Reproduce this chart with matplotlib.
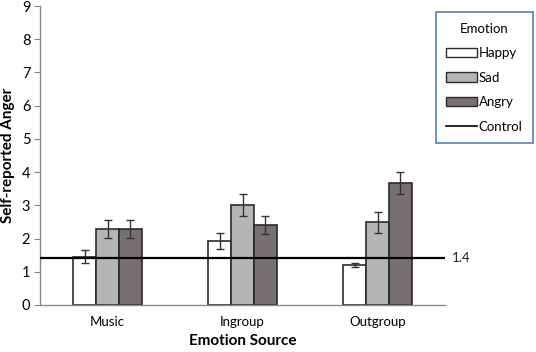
import numpy as np
import matplotlib.pyplot as plt
from matplotlib.patches import Patch
from matplotlib.lines import Line2D

plt.rcParams['font.family'] = ['Lato', 'DejaVu Sans']

sources = ['Music', 'Ingroup', 'Outgroup']
emotions = ['Happy', 'Sad', 'Angry']
happy = [1.45, 1.93, 1.21]
sad = [2.29, 3.01, 2.49]
angry = [2.30, 2.41, 3.67]
happy_err = [0.20, 0.25, 0.06]
sad_err = [0.27, 0.33, 0.31]
angry_err = [0.27, 0.27, 0.33]
control = 1.4

colors = ['#ffffff', '#b5b5b5', '#787070']
edge = '#2b2b2b'
axis_grey = '#8a8a8a'

fig = plt.figure(figsize=(5.36, 3.52), dpi=100)
ax = fig.add_axes([40 / 536, 47 / 352, 405 / 536, 299 / 352])

x = np.arange(len(sources)) + 0.5
w = 0.17
series = [happy, sad, angry]
errs = [happy_err, sad_err, angry_err]
for i, (vals, err) in enumerate(zip(series, errs)):
    ax.bar(x + (i - 1) * w, vals, w, color=colors[i], edgecolor=edge,
           linewidth=1.2, zorder=2)
    ax.errorbar(x + (i - 1) * w, vals, yerr=err, fmt='none', ecolor='#333333',
                elinewidth=1.0, capsize=3, capthick=1.0, zorder=3)

ax.axhline(control, color='black', linewidth=1.6, zorder=4)
ax.text(3.05, control, '1.4', va='center', ha='left', fontsize=9.5,
        color='#222222', clip_on=False)

ax.set_xlim(0, 3)
ax.set_ylim(0, 9)
ax.set_yticks(range(10))
ax.set_xticks(x)
ax.set_xticklabels(sources, fontsize=9.5)
ax.tick_params(axis='x', length=0, pad=8)
ax.tick_params(axis='y', length=4, width=0.8, color=axis_grey, labelsize=10.5, pad=3)
for s in ['top', 'right']:
    ax.spines[s].set_visible(False)
for s in ['left', 'bottom']:
    ax.spines[s].set_color(axis_grey)
    ax.spines[s].set_linewidth(1.0)

ax.set_ylabel('Self-reported Anger', fontsize=11, fontweight='bold', labelpad=5)
ax.set_xlabel('Emotion Source', fontsize=11, fontweight='bold', labelpad=4)

handles = [Patch(facecolor=colors[i], edgecolor=edge, linewidth=1.0, label=emotions[i])
           for i in range(3)]
handles.append(Line2D([0], [0], color='black', linewidth=1.2, label='Control'))
leg = fig.legend(handles=handles, title='Emotion', loc='upper right',
                 bbox_to_anchor=(533 / 536, 1 - 12 / 352), fontsize=9.5,
                 title_fontsize=9.5, frameon=True, fancybox=False,
                 handlelength=2.3, handleheight=0.7, handletextpad=0.15,
                 labelspacing=0.95, borderpad=0.8, borderaxespad=0)
leg.get_frame().set_edgecolor('#3a6fb0')
leg.get_frame().set_linewidth(1.3)

fig.savefig('out.png', dpi=100)
